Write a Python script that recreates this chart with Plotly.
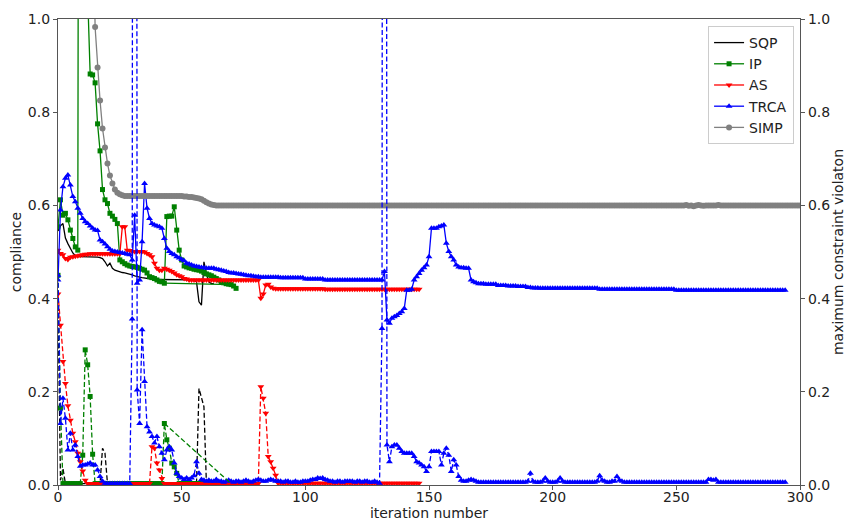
import plotly.graph_objects as go

# ---------------- data ----------------
# SQP: compliance (solid) and maximum constraint violation (dashed)
sqp_compliance = [
    0.545, 0.556, 0.561, 0.530, 0.518, 0.508, 0.498, 0.492, 0.490, 0.490,
    0.490, 0.490, 0.490, 0.490, 0.489, 0.489, 0.489, 0.488, 0.486, 0.479,
    0.470, 0.476, 0.465, 0.461, 0.459, 0.458, 0.456, 0.455, 0.454, 0.452,
    0.451, 0.449, 0.447, 0.446, 0.445, 0.444, 0.443, 0.442, 0.441, 0.441,
    0.441, 0.441, 0.441, 0.441, 0.441, 0.441, 0.441, 0.441, 0.441, 0.441,
    0.441, 0.441, 0.441, 0.440, 0.440, 0.440, 0.436, 0.393, 0.386, 0.479,
    0.454, 0.436, 0.432, 0.432]
sqp_violation = ([0.40, 0.010, 0.036] + [0.003] * 15 + [0.079, 0.068]
                 + [0.003] * 37 + [0.207, 0.190, 0.168] + [0.003] * 4)

# IP
ip_compliance = [
    0.554, 0.612, 0.579, 0.583, 0.569, 0.547, 0.529, 0.511, 0.504, 4.0,
    4.0, 4.0, 1.05, 0.882, 0.880, 0.863, 0.775, 0.717, 0.634, 0.612,
    0.604, 0.583, 0.577, 0.570, 0.561, 0.483, 0.479, 0.475, 0.472, 0.470,
    0.469, 0.468, 0.467, 0.465, 0.463, 0.461, 0.455, 0.447, 0.445, 0.443,
    0.440, 0.437, 0.436, 0.433, 0.576, 0.577, 0.577, 0.597, 0.547, 0.504,
    0.483, 0.470, 0.468, 0.466, 0.465, 0.463, 0.462, 0.461, 0.459, 0.456,
    0.453, 0.451, 0.449, 0.446, 0.443, 0.440, 0.436, 0.434, 0.432, 0.431,
    0.430, 0.427, 0.422]
ip_violation = ([0.45, 0.165] + [0.003] * 8 + [0.064, 0.290, 0.258, 0.190, 0.066]
                + [0.003] * 28 + [0.132, 0.097, 0.079, 0.047, 0.039, 0.025]
                + [0.003] * 24)
ip_jump = [43, 70]   # IP iterations joined directly by a straight segment

# AS
as_compliance = ([0.504, 0.497, 0.494, 0.486, 0.484, 0.489, 0.490, 0.491, 0.492, 0.493,
                  0.494, 0.495, 0.495, 0.496] + [0.496] * 11
                 + [0.496, 0.554, 0.554, 0.504, 0.503, 0.501, 0.501, 0.501, 0.501, 0.501,
                    0.500, 0.497, 0.494, 0.490, 0.476, 0.465, 0.461, 0.461, 0.465, 0.463,
                    0.461, 0.458, 0.455, 0.451, 0.449, 0.447, 0.443, 0.442]
                 + [0.440] * 29 + [0.401, 0.410, 0.429, 0.431, 0.425, 0.422]
                 + [0.421] * 20 + [0.420] * 39)
as_violation = ([0.41, 0.343, 0.265, 0.218, 0.170, 0.139, 0.111, 0.093, 0.068, 0.050,
                 0.030, 0.010] + [0.003] * 26 + [0.082, 0.079, 0.047, 0.032, 0.014]
                + [0.003] * 39 + [0.211, 0.186, 0.154, 0.061, 0.050, 0.036, 0.021]
                + [0.004] * 58)

# TRCA
trca_compliance = ([
    0.440, 0.590, 0.640, 0.658, 0.665, 0.644, 0.619, 0.608, 0.594, 0.583,
    0.572, 0.565, 0.561, 0.556, 0.551, 0.547, 0.546, 0.526, 0.522, 0.517,
    0.511, 0.506, 0.502, 0.501, 0.500, 0.499, 0.498, 0.497, 0.495, 0.494,
    0.483, 0.579, 0.433, 0.440, 0.522, 0.647, 0.594, 0.572, 0.561, 0.558,
    0.556, 0.554, 0.551, 0.529, 0.508, 0.501, 0.497, 0.494, 0.490, 0.487,
    0.484, 0.481, 0.476, 0.474, 0.472, 0.470, 0.469, 0.468, 0.467, 0.466,
    0.465, 0.465, 0.465, 0.465, 0.463, 0.462, 0.461, 0.459, 0.458, 0.456,
    0.455, 0.455, 0.454, 0.453, 0.452, 0.451, 0.450, 0.449, 0.449, 0.448,
    0.447, 0.447, 0.446, 0.446, 0.446, 0.446, 0.446, 0.446, 0.446, 0.446]
    + [0.445] * 10 + [0.442] * 8 + [0.440] * 23
    + [0.440, 0.458, 0.354, 0.347, 0.358, 0.361, 0.364, 0.368, 0.372, 0.379,
       0.418, 0.418, 0.420, 0.440, 0.447, 0.454, 0.461, 0.466, 0.472, 0.490,
       0.551, 0.551, 0.551, 0.554, 0.556, 0.558, 0.519, 0.501, 0.490, 0.483,
       0.472, 0.468, 0.466, 0.466, 0.465, 0.465, 0.440, 0.436, 0.434, 0.432,
       0.432, 0.432, 0.431, 0.431, 0.431, 0.431, 0.431, 0.428, 0.428, 0.428,
       0.428, 0.427, 0.427, 0.427, 0.427, 0.426, 0.426, 0.426, 0.426,
       0.424, 0.424, 0.423, 0.423, 0.423, 0.422, 0.422, 0.422]
    + [0.422] * 21 + [0.420] * 31 + [0.418] * 45)
trca_violation = ([
    0.450, 0.132, 0.186, 0.143, 0.075, 0.111, 0.075, 0.086, 0.061, 0.040,
    0.043, 0.043, 0.045, 0.047, 0.043, 0.043, 0.032, 0.018, 0.008, 0.004]
    + [0.003] * 10
    + [0.356, 8.0, 0.204, 0.132, 0.333, 0.222, 0.125, 0.114, 0.104, 0.090,
       0.104, 0.082, 0.068, 0.054, 0.075, 0.082, 0.075, 0.047, 0.025, 0.018,
       0.015, 0.012, 0.015, 0.012, 0.015, 0.020, 0.050, 0.025, 0.012, 0.010,
       0.008, 0.010, 0.008, 0.008, 0.012, 0.008, 0.008, 0.006, 0.008, 0.010,
       0.008, 0.006, 0.008, 0.008, 0.006, 0.008, 0.010, 0.008, 0.006, 0.008,
       0.010, 0.012, 0.010, 0.008, 0.008, 0.010, 0.012, 0.010, 0.008, 0.008,
       0.008, 0.006, 0.008, 0.008, 0.006, 0.006, 0.008, 0.006, 0.006, 0.008,
       0.008, 0.008, 0.010, 0.012, 0.012, 0.015, 0.014, 0.015, 0.012, 0.010,
       0.008, 0.008, 0.006, 0.008, 0.008, 0.006, 0.008, 0.008, 0.008, 0.008,
       0.006, 0.008, 0.008, 0.006, 0.008, 0.008, 0.006, 0.006, 0.008, 0.006,
       0.004, 0.336, 8.0, 0.086, 0.050, 0.082, 0.086, 0.086, 0.079, 0.072,
       0.068, 0.068, 0.068, 0.068, 0.061, 0.050, 0.047, 0.043, 0.039, 0.029,
       0.039, 0.072, 0.072, 0.072, 0.072, 0.043, 0.068, 0.079, 0.064, 0.029,
       0.054, 0.043, 0.018, 0.010, 0.008, 0.008, 0.010, 0.012, 0.010, 0.008]
    + [0.006] * 20
    + [0.008, 0.025, 0.008, 0.006, 0.006, 0.006, 0.008, 0.015, 0.008, 0.006,
       0.006, 0.006, 0.008, 0.015, 0.008]
    + [0.006] * 13
    + [0.008, 0.020, 0.010, 0.008, 0.006, 0.006, 0.008, 0.008, 0.018, 0.010, 0.008]
    + [0.006] * 34 + [0.012, 0.012, 0.010, 0.012] + [0.006] * 28)

# SIMP (compliance only)
simp_compliance = ([3.0, 2.8, 2.6, 2.4, 2.2, 2.0, 1.9, 1.8, 1.7, 1.6, 1.5, 1.45, 1.4, 1.35, 1.3,
                    0.983, 0.896, 0.825, 0.765, 0.724, 0.690, 0.664, 0.647, 0.634, 0.627,
                    0.624, 0.622] + [0.620] * 24
                   + [0.619, 0.619, 0.618, 0.618, 0.617, 0.616, 0.615,
                      0.613, 0.610, 0.607, 0.604, 0.602, 0.601]
                   + [0.600] * 190
                   + [0.601, 0.599, 0.600, 0.598, 0.600, 0.601, 0.600, 0.599, 0.600, 0.600,
                      0.600, 0.600, 0.600, 0.601]
                   + [0.600] * 33)

x_ticks = [0, 50, 100, 150, 200, 250, 300]
y_ticks = [0.0, 0.2, 0.4, 0.6, 0.8, 1.0]

# ---------------- figure ----------------
FONT = "DejaVu Sans"
DASH = "5px,2.5px"
LW = 1.3

fig = go.Figure()

series = [
    ("SQP", sqp_compliance, sqp_violation, "#000000", None, 0),
    ("IP", ip_compliance, ip_violation, "#008000", "square", 5),
    ("AS", as_compliance, as_violation, "#ff0000", "triangle-down", 6),
    ("TRCA", trca_compliance, trca_violation, "#0000ff", "triangle-up", 6),
]

for name, comp, viol, color, sym, ms in series:
    xs = list(range(len(comp)))
    mode = "lines" if sym is None else "lines+markers"
    mk = dict(color=color, size=ms, symbol=sym, line=dict(width=0)) if sym else None
    fig.add_trace(go.Scatter(x=xs, y=comp, mode=mode, name=name,
                             line=dict(color=color, width=LW), marker=mk,
                             yaxis="y", legendgroup=name))

# SIMP compliance
fig.add_trace(go.Scatter(x=list(range(len(simp_compliance))), y=simp_compliance,
                         mode="lines+markers", name="SIMP",
                         line=dict(color="#808080", width=LW),
                         marker=dict(color="#808080", size=6, symbol="circle", line=dict(width=0)),
                         yaxis="y", legendgroup="SIMP"))

# IP direct connection between iterations 43 and 70 (compliance)
fig.add_trace(go.Scatter(x=ip_jump, y=[ip_compliance[i] for i in ip_jump], mode="lines",
                         line=dict(color="#008000", width=LW), showlegend=False,
                         yaxis="y", hoverinfo="skip"))

# violations on the right axis
for name, comp, viol, color, sym, ms in series:
    xs = list(range(len(viol)))
    mode = "lines" if sym is None else "lines+markers"
    mk = dict(color=color, size=ms, symbol=sym, line=dict(width=0)) if sym else None
    fig.add_trace(go.Scatter(x=xs, y=viol, mode=mode, name=name + " violation",
                             line=dict(color=color, width=LW, dash=DASH), marker=mk,
                             yaxis="y2", showlegend=False, legendgroup=name))

fig.add_trace(go.Scatter(x=ip_jump, y=[ip_violation[i] for i in ip_jump], mode="lines",
                         line=dict(color="#008000", width=LW, dash=DASH), showlegend=False,
                         yaxis="y2", hoverinfo="skip"))

axis_common = dict(showgrid=False, zeroline=False, showline=True, linecolor="#555555",
                   linewidth=1.2, ticks="outside", ticklen=4, tickwidth=1, tickcolor="#555555",
                   automargin=False,
                   tickfont=dict(family=FONT, size=14, color="#222222"))

# the page body has an 8px margin, so the figure is sized to leave the plot
# area at the same place on the 858x522 page as in the reference
fig.update_layout(
    width=850, height=514,
    margin=dict(l=50, r=58, t=11, b=37, autoexpand=False),
    paper_bgcolor="white", plot_bgcolor="white",
    font=dict(family=FONT, size=14, color="#222222"),
    xaxis=dict(range=[0, 300], tickvals=x_ticks, mirror=True, ticklabelstandoff=-5,
               title=dict(text="iteration number", standoff=0,
                          font=dict(family=FONT, size=14)),
               **axis_common),
    yaxis=dict(range=[0, 1], tickvals=y_ticks, tickformat=".1f",
               title=dict(text="compliance", standoff=2, font=dict(family=FONT, size=14)),
               **axis_common),
    yaxis2=dict(range=[0, 1], tickvals=y_ticks, tickformat=".1f", overlaying="y",
                side="right", anchor="x",
                title=dict(text="maximum constraint violaton", standoff=2,
                           font=dict(family=FONT, size=14)),
                **axis_common),
    legend=dict(x=0.992, y=0.985, xanchor="right", yanchor="top",
                bgcolor="rgba(255,255,255,0.9)", bordercolor="#cccccc", borderwidth=1,
                font=dict(family=FONT, size=14, color="#222222"),
                tracegroupgap=0, itemwidth=30),
    showlegend=True,
)

fig.write_html("out.html")
